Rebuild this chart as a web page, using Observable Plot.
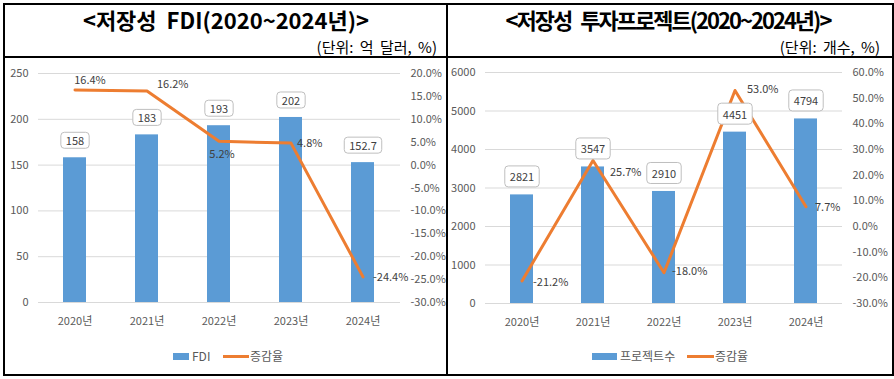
<!DOCTYPE html>
<html><head><meta charset="utf-8">
<script src="https://cdn.jsdelivr.net/npm/d3@7"></script>
<script src="https://cdn.jsdelivr.net/npm/@observablehq/plot@0.6"></script>
<style>
body{margin:0;background:#fff;font-family:"Noto Sans CJK KR",sans-serif;}
#wrap{position:relative;width:894px;height:379px;overflow:hidden;background:#fff;}
.title{position:absolute;top:8px;font-weight:bold;font-size:22px;line-height:22px;color:#000;white-space:nowrap;transform:translateX(-50%);}
.unit{position:absolute;top:39px;font-size:15px;line-height:16px;color:#000;white-space:nowrap;word-spacing:3px;}
.chart{position:absolute;top:58px;}
.line{position:absolute;background:#000;z-index:5;}
.lg{position:absolute;font-size:12px;line-height:14px;color:#595959;white-space:nowrap;}
.sw{position:absolute;}
</style></head>
<body>
<div id="wrap">
  <div class="title" style="left:226px;">&lt;저장성&nbsp; FDI(2020~2024년)&gt;</div>
  <div class="unit" style="right:457px;">(단위: 억 달러, %)</div>
  <div class="title" style="left:668px;letter-spacing:-2px;word-spacing:6px;">&lt;저장성 투자프로젝트(2020~2024년)&gt;</div>
  <div class="unit" style="right:14px;">(단위: 개수, %)</div>
  <div id="c1" class="chart" style="left:0px;"></div>
  <div id="c2" class="chart" style="left:447px;"></div>

  <div class="sw" style="left:173px;top:353px;width:16px;height:7px;background:#5B9BD5;"></div>
  <div class="lg" style="left:192px;top:349px;">FDI</div>
  <div class="sw" style="left:223px;top:355px;width:26px;height:3px;background:#ED7D31;"></div>
  <div class="lg" style="left:250px;top:349px;">증감율</div>

  <div class="sw" style="left:592px;top:353px;width:25px;height:7px;background:#5B9BD5;"></div>
  <div class="lg" style="left:620px;top:349px;">프로젝트수</div>
  <div class="sw" style="left:687px;top:355px;width:27px;height:3px;background:#ED7D31;"></div>
  <div class="lg" style="left:715px;top:349px;">증감율</div>

  <div class="line" style="left:3px;top:3px;width:891px;height:2px;"></div>
  <div class="line" style="left:3px;top:374px;width:891px;height:2px;"></div>
  <div class="line" style="left:3px;top:3px;width:2px;height:373px;"></div>
  <div class="line" style="left:892px;top:3px;width:2px;height:373px;"></div>
  <div class="line" style="left:446px;top:3px;width:2px;height:373px;"></div>
  <div class="line" style="left:3px;top:56px;width:891px;height:2px;"></div>
</div>
<script>
const years = ["2020년", "2021년", "2022년", "2023년", "2024년"];
const fdiValues = [158, 183, 193, 202, 152.7];
const fdiRates = [16.4, 16.2, 5.2, 4.8, -24.4];
const projectValues = [2821, 3547, 2910, 4451, 4794];
const projectRates = [-21.2, 25.7, -18.0, 53.0, 7.7];
const fdiLeftTicks = [0, 50, 100, 150, 200, 250];
const fdiRightTicks = [-30, -25, -20, -15, -10, -5, 0, 5, 10, 15, 20];
const projectLeftTicks = [0, 1000, 2000, 3000, 4000, 5000, 6000];
const projectRightTicks = [-30, -20, -10, 0, 10, 20, 30, 40, 50, 60];

function makeChart(cfg) {
  const {values, rates, leftTicks, rightTicks, marginTop, marginBottom, marginRight, labelDy, rateLabels} = cfg;
  const yMax = leftTicks[leftTicks.length - 1];
  const pMin = rightTicks[0], pMax = rightTicks[rightTicks.length - 1];
  const toY = p => (p - pMin) * yMax / (pMax - pMin);
  const fromY = v => Math.round((v * (pMax - pMin) / yMax + pMin) * 10) / 10;
  const rows = years.map((year, i) => ({year, value: values[i], rate: rates[i], ry: toY(rates[i])}));
  const marks = [
    Plot.gridY(leftTicks, {stroke: "#d9d9d9", strokeOpacity: 1}),
    Plot.axisY(leftTicks, {anchor: "left", tickSize: 0, tickPadding: 10, label: null, tickFormat: d => String(d)}),
    Plot.axisY(rightTicks.map(toY), {anchor: "right", tickSize: 0, tickPadding: 10, label: null,
      tickFormat: v => fromY(v).toFixed(1) + "%"}),
    Plot.axisX({tickSize: 0, tickPadding: 15, label: null}),
    Plot.barY(rows, {x: "year", y: "value", fill: "#5B9BD5"}),
    Plot.line(rows, {x: "year", y: "ry", stroke: "#ED7D31", strokeWidth: 3}),
    Plot.text(rows, {x: "year", y: "value", text: d => String(d.value), dy: labelDy, fill: "#404041", fontSize: 11})
  ];
  rateLabels.forEach(l => {
    marks.push(Plot.text(rows, {filter: (d, j) => j === l.i, x: "year", y: "ry",
      text: d => d.rate.toFixed(1) + "%", dx: l.dx, dy: l.dy, textAnchor: l.anchor,
      fill: "#404040", fontSize: 11}));
  });
  return Plot.plot({
    width: 447, height: 290,
    marginLeft: 38, marginRight, marginTop, marginBottom,
    x: {domain: years, paddingInner: 0.68, paddingOuter: 0.34},
    y: {domain: [0, yMax]},
    style: {fontFamily: '"Noto Sans CJK KR", sans-serif', fontSize: "11px", color: "#595959", background: "transparent"},
    marks
  });
}

function addBoxes(svg, padX, boxH) {
  svg.querySelectorAll('g[fill="#404041"] text').forEach(t => {
    const b = t.getBBox();
    const r = document.createElementNS("http://www.w3.org/2000/svg", "rect");
    r.setAttribute("x", b.x - padX);
    r.setAttribute("y", b.y + b.height / 2 - boxH / 2);
    r.setAttribute("width", b.width + 2 * padX);
    r.setAttribute("height", boxH);
    r.setAttribute("rx", 3.5);
    r.setAttribute("fill", "#ffffff");
    r.setAttribute("stroke", "#bfbfbf");
    r.setAttribute("stroke-width", 1);
    const tr = t.getAttribute("transform");
    if (tr) r.setAttribute("transform", tr);
    t.parentNode.insertBefore(r, t);
  });
}

const c1 = makeChart({
  values: fdiValues, rates: fdiRates, leftTicks: fdiLeftTicks, rightTicks: fdiRightTicks,
  marginTop: 15, marginBottom: 46, marginRight: 47, labelDy: -16,
  rateLabels: [
    {i: 0, dx: 15, dy: -10, anchor: "middle"},
    {i: 1, dx: 10, dy: -6, anchor: "start"},
    {i: 2, dx: 3, dy: 13, anchor: "middle"},
    {i: 3, dx: 6, dy: 0, anchor: "start"},
    {i: 4, dx: 10, dy: 1, anchor: "start"}
  ]
});
document.getElementById("c1").appendChild(c1);
addBoxes(c1, 5, 16);

const c2 = makeChart({
  values: projectValues, rates: projectRates, leftTicks: projectLeftTicks, rightTicks: projectRightTicks,
  marginTop: 14, marginBottom: 45, marginRight: 52, labelDy: -17,
  rateLabels: [
    {i: 0, dx: 11, dy: 2, anchor: "start"},
    {i: 1, dx: 17, dy: 12, anchor: "start"},
    {i: 2, dx: 8, dy: -1, anchor: "start"},
    {i: 3, dx: 12, dy: -1, anchor: "start"},
    {i: 4, dx: 9, dy: 1, anchor: "start"}
  ]
});
document.getElementById("c2").appendChild(c2);
addBoxes(c2, 5, 21);
</script>
</body></html>
